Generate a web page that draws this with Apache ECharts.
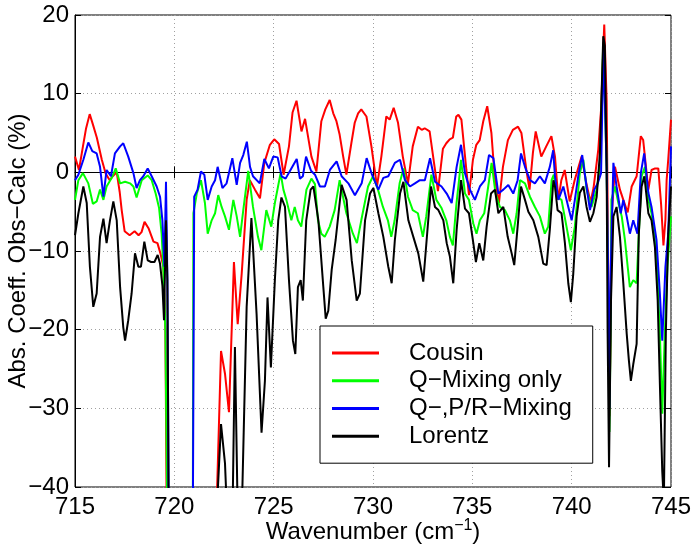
<!DOCTYPE html>
<html>
<head>
<meta charset="utf-8">
<script src="https://cdn.jsdelivr.net/npm/echarts@6/dist/echarts.min.js"></script>
<style>html,body{margin:0;padding:0;background:#fff}#c{width:694px;height:548px}</style>
</head>
<body>
<div id="c"></div>
<script>
const seriesNames = ['Cousin', 'Q\u2212Mixing only', 'Q\u2212,P/R\u2212Mixing', 'Lorentz'];
const xTicks = [715, 720, 725, 730, 735, 740, 745];
const yTicks = [-40, -30, -20, -10, 0, 10, 20];

const cousin = [[715.0,2.0],[715.2,0.3],[715.4,3.3],[715.55,5.5],[715.74,7.4],[715.9,6.1],[716.1,4.4],[716.35,1.6],[716.55,-0.2],[716.75,-1.0],[716.9,-0.5],[717.1,0.0],[717.25,-2.5],[717.35,-4.8],[717.5,-7.5],[717.75,-8.0],[718.0,-7.5],[718.2,-8.0],[718.35,-7.6],[718.5,-6.3],[718.7,-7.1],[718.95,-8.8],[719.15,-9.0],[719.3,-10.3],[719.45,-12],[719.55,-20],[719.62,-45],[720.4,null],[722.1,-45],[722.35,-22.7],[722.55,-25.6],[722.75,-30.5],[723.0,-11.4],[723.19,-19.3],[723.39,-12.9],[723.64,-3.5],[723.8,-1.0],[724.06,-2.2],[724.31,-3.3],[724.53,1.2],[724.81,3.5],[725.03,4.2],[725.27,3.6],[725.5,-0.3],[725.77,3.3],[725.95,7.6],[726.15,9.1],[726.4,5.2],[726.58,6.8],[726.9,2.0],[727.15,0.1],[727.4,6.5],[727.6,8.0],[727.82,9.2],[728.0,7.5],[728.16,6.5],[728.32,4.8],[728.5,2.0],[728.66,-0.3],[728.91,3.7],[729.08,6.3],[729.25,7.5],[729.41,8.0],[729.67,7.1],[729.92,3.3],[730.2,-1.8],[730.42,2.0],[730.67,7.1],[730.84,6.7],[731.04,8.2],[731.26,6.3],[731.5,2.0],[731.76,-1.4],[732.0,3.3],[732.26,5.8],[732.45,5.4],[732.6,5.6],[732.85,5.2],[733.1,0.7],[733.27,-2.4],[733.52,3.0],[733.69,3.7],[733.86,4.2],[734.02,4.4],[734.19,7.1],[734.3,7.3],[734.45,6.7],[734.7,0.3],[734.83,-2.9],[735.03,1.6],[735.2,3.5],[735.37,4.1],[735.55,6.5],[735.75,8.4],[735.96,5.0],[736.12,-0.5],[736.34,-3.9],[736.54,0.7],[736.79,4.1],[737.04,5.4],[737.3,5.8],[737.47,5.0],[737.72,0.3],[737.88,-2.2],[738.05,2.5],[738.19,5.2],[738.47,2.0],[738.72,3.3],[738.98,4.6],[739.16,2.0],[739.33,-3.5],[739.48,-1.0],[739.65,0.3],[739.9,-3.7],[740.15,-1.0],[740.5,2.0],[740.74,-1.4],[740.95,-3.8],[741.1,-2.0],[741.34,2.9],[741.48,8],[741.64,18.8],[741.76,9.2],[741.85,-15],[741.9,-31],[741.97,-18],[742.01,-5.7],[742.18,0.7],[742.43,-2.2],[742.6,-3.5],[742.82,-5.1],[743.02,-1.8],[743.27,-0.5],[743.48,4.6],[743.6,4.1],[743.86,-2.2],[744.02,0.3],[744.2,0.5],[744.36,0.5],[744.5,-4],[744.62,-9.3],[744.72,-6],[744.78,-1.0],[744.86,1.6],[745.0,6.7]];

const qMixing = [[715.0,-3.5],[715.17,-1.0],[715.4,-0.1],[715.47,0.1],[715.67,-1.4],[715.9,-4.0],[716.09,-3.7],[716.26,-2.2],[716.43,-3.5],[716.59,-1.8],[716.85,-0.7],[717.05,0.5],[717.27,-1.4],[717.52,-1.2],[717.77,-1.4],[717.94,-1.8],[718.1,-3.2],[718.36,-1.0],[718.66,-0.4],[718.86,-1.0],[719.06,-2.7],[719.23,-4.5],[719.36,-7.8],[719.45,-12.4],[719.55,-20],[719.65,-45],[720.4,null],[720.93,-45],[720.96,-5.2],[721.13,-2.7],[721.34,-1.0],[721.54,-3.9],[721.68,-7.8],[721.88,-6.1],[722.05,-5.2],[722.21,-2.9],[722.38,-4.4],[722.55,-5.6],[722.75,-7.3],[722.97,-3.5],[723.14,-5.6],[723.31,-8.2],[723.47,-4.8],[723.72,0.2],[723.96,-4.4],[724.21,-8.2],[724.38,-9.9],[724.63,-4.8],[724.88,-6.9],[725.06,-3.9],[725.22,-1.8],[725.35,-0.1],[725.49,-2.2],[725.64,-3.5],[725.89,-6.1],[726.06,-4.4],[726.22,-6.1],[726.39,-6.9],[726.65,-2.2],[726.9,-0.8],[727.08,-1.5],[727.23,-6.1],[727.4,-7.8],[727.57,-8.2],[727.82,-6.9],[728.07,-4.8],[728.32,-1.0],[728.66,-5.2],[728.99,-7.8],[729.19,-9.0],[729.41,-6.1],[729.75,-1.8],[730.0,-0.5],[730.25,-2.2],[730.5,-4.4],[730.75,-6.1],[730.92,-8.2],[731.09,-6.1],[731.34,-1.4],[731.54,0.5],[731.76,-3.1],[732.0,-4.8],[732.26,-5.2],[732.51,-8.2],[732.68,-5.6],[732.94,-0.3],[733.19,-3.5],[733.44,-4.5],[733.69,-6.1],[733.87,-8.2],[734.02,-9.3],[734.2,-4],[734.33,-1.0],[734.43,1.6],[734.63,-2.7],[734.83,-3.5],[735.05,-6.5],[735.21,-7.8],[735.38,-6.1],[735.6,-5.2],[735.8,-1.8],[735.97,1.2],[736.17,-2.7],[736.39,-4.4],[736.64,-4.8],[736.89,-6.1],[737.06,-7.8],[737.23,-5.2],[737.4,-1.0],[737.65,-1.4],[737.9,-3.1],[738.15,-4.4],[738.4,-5.6],[738.65,-7.8],[738.82,-6.9],[738.99,-1.0],[739.1,-0.3],[739.24,-3.1],[739.49,-3.5],[739.74,-6.9],[739.96,-9.9],[740.16,-6.9],[740.41,-0.1],[740.59,1.6],[740.75,-2.2],[741.0,-4.4],[741.26,-2.2],[741.42,0.7],[741.59,16.5],[741.76,0.7],[741.85,-18],[741.9,-33],[741.97,-18],[742.0,-3.5],[742.18,-1.8],[742.35,-3.9],[742.52,-5.6],[742.68,-8.6],[742.82,-12],[742.93,-14.6],[743.1,-13.7],[743.27,-14.1],[743.38,-7.8],[743.52,-0.5],[743.69,0.7],[743.86,-3.5],[744.02,-5.2],[744.27,-10.3],[744.44,-20.5],[744.56,-30.7],[744.69,-20.5],[744.82,-12],[745.0,-5.6]];

const qprMixing = [[715.0,-1.0],[715.17,-0.3],[715.42,1.6],[715.67,3.8],[715.87,2.7],[716.09,2.4],[716.26,0.7],[716.43,-3.1],[716.59,0.3],[716.81,-0.5],[717.01,2.4],[717.27,3.3],[717.43,3.7],[717.68,2.0],[717.94,-0.1],[718.1,-2.0],[718.27,-1.0],[718.44,-0.5],[718.66,0.5],[718.86,-0.5],[719.11,-1.8],[719.28,-3.1],[719.4,-6.1],[719.5,-12.0],[719.58,-1.2],[719.65,-13.7],[719.72,-45],[720.4,null],[720.93,-45],[721.0,-3.1],[721.17,-2.2],[721.34,0.1],[721.51,-0.3],[721.68,-3.5],[721.88,-1.8],[722.05,-1.0],[722.18,0.7],[722.42,-2.0],[722.63,-1.4],[722.92,1.8],[723.14,-1.6],[723.31,1.2],[723.47,2.2],[723.65,3.9],[723.81,0.7],[723.96,-0.5],[724.06,-0.7],[724.3,-1.4],[724.53,1.7],[724.76,0.5],[724.98,2.0],[725.2,1.9],[725.4,-0.5],[725.6,-0.8],[725.89,0.5],[726.16,1.7],[726.32,-0.8],[726.47,-0.5],[726.63,2.0],[726.88,0.2],[727.08,-0.3],[727.33,-1.8],[727.58,-1.8],[727.83,0.3],[728.17,1.4],[728.42,-0.5],[728.76,-1.4],[729.09,-2.9],[729.43,-1.4],[729.68,1.8],[729.95,-0.3],[730.27,-2.2],[730.52,-0.7],[730.77,-0.5],[731.1,1.2],[731.36,1.6],[731.61,-1.0],[731.86,-1.8],[732.11,-1.4],[732.36,-1.0],[732.61,-1.0],[732.87,1.8],[733.12,-1.2],[733.45,-1.8],[733.71,-2.7],[733.96,-3.9],[734.21,0.7],[734.43,3.5],[734.63,-0.1],[734.88,-2.2],[735.13,-3.5],[735.38,-1.8],[735.63,-1.0],[735.84,2.2],[736.06,1.8],[736.31,-2.7],[736.56,-2.2],[736.81,-1.6],[737.06,-2.7],[737.28,-1.0],[737.45,2.4],[737.65,0.7],[737.9,-1.0],[738.15,-1.4],[738.4,-0.5],[738.65,-1.4],[738.9,0.7],[739.07,2.8],[739.16,-0.5],[739.33,-3.5],[739.58,-1.8],[739.83,-4.4],[740.0,-6.1],[740.16,-3.5],[740.33,-0.5],[740.53,2.2],[740.75,-1.8],[740.92,-4.8],[741.14,-2.2],[741.31,-1.4],[741.48,-0.1],[741.6,16],[741.76,0.5],[741.85,-15],[741.9,-30],[741.97,-12],[742.1,1.2],[742.26,-1.8],[742.47,-5.2],[742.6,-3.5],[742.77,-5.6],[742.93,-7.8],[743.1,-6.1],[743.31,-7.8],[743.48,-0.1],[743.65,2.4],[743.86,-2.6],[744.02,-4.4],[744.27,-8.6],[744.44,-15.4],[744.56,-21.4],[744.72,-12],[744.86,-7.8],[745.0,3.3]];

const lorentz = [[715.0,-8.0],[715.17,-5.2],[715.42,-1.8],[715.59,-3.9],[715.75,-12],[715.92,-17.1],[716.09,-15.4],[716.26,-8.2],[716.43,-5.9],[716.59,-9.0],[716.76,-6.1],[716.93,-3.7],[717.1,-6.1],[717.27,-14.6],[717.43,-19.7],[717.52,-21.4],[717.68,-18.8],[717.85,-15.4],[718.02,-10.3],[718.19,-12],[718.32,-12],[718.49,-8.8],[718.66,-11.2],[718.83,-11.4],[719.0,-11.4],[719.16,-10.5],[719.28,-11.6],[719.4,-14.4],[719.48,-18.8],[719.58,-6.1],[719.65,-13.7],[719.72,-45],[720.4,null],[722.1,-45],[722.35,-32],[722.55,-37],[722.68,-45],[722.92,-45],[723.05,-22.2],[723.2,-45],[723.38,-45],[723.64,-17.1],[723.88,-5.8],[724.14,-18],[724.39,-33.1],[724.56,-26.5],[724.69,-15.9],[724.86,-24.8],[725.06,-13.7],[725.23,-6.1],[725.39,-3.2],[725.57,-4.4],[725.77,-13.7],[725.97,-21.4],[726.09,-23.1],[726.22,-14.6],[726.36,-13.7],[726.47,-16.3],[726.64,-6.1],[726.86,-2.2],[727.0,-1.8],[727.25,-6.1],[727.5,-14.6],[727.62,-18.6],[727.75,-17.6],[727.92,-12.4],[728.12,-8.6],[728.42,-1.6],[728.67,-3.5],[728.93,-11.2],[729.18,-16.3],[729.34,-15.4],[729.6,-6.1],[729.85,-2.7],[730.02,-2.0],[730.27,-5.2],[730.52,-8.2],[730.77,-12],[730.94,-14.1],[731.1,-8.6],[731.36,-2.7],[731.53,-1.2],[731.78,-6.1],[732.03,-8.2],[732.28,-10.3],[732.53,-13.9],[732.7,-8.6],[732.92,-1.8],[733.12,-4.4],[733.29,-4.8],[733.54,-6.1],[733.71,-9.0],[733.87,-10.7],[734.04,-14.1],[734.21,-7.3],[734.43,-1.0],[734.63,-4.6],[734.83,-5.2],[735.05,-9.0],[735.18,-11.4],[735.35,-9.0],[735.55,-11.2],[735.72,-6.9],[735.94,-2.7],[736.14,-2.2],[736.31,-5.2],[736.56,-4.4],[736.78,-8.2],[736.98,-10.3],[737.11,-11.8],[737.28,-6.9],[737.45,-1.8],[737.65,-3.5],[737.82,-5.0],[738.07,-6.1],[738.32,-8.2],[738.57,-11.6],[738.74,-11.8],[738.9,-7.3],[739.08,-1.0],[739.16,-1.8],[739.29,-4.8],[739.49,-5.2],[739.66,-9.0],[739.83,-14.1],[739.96,-16.5],[740.08,-12.9],[740.25,-5.6],[740.41,-2.6],[740.59,-1.8],[740.75,-4.4],[740.92,-6.3],[741.09,-5.2],[741.26,-3.1],[741.42,2.4],[741.59,17.3],[741.67,16.1],[741.76,0.7],[741.81,-20.5],[741.88,-37.5],[741.98,-16.3],[742.1,-5.6],[742.26,-4.4],[742.43,-8.2],[742.6,-14.1],[742.77,-20.5],[742.88,-23.9],[742.98,-26.5],[743.1,-24.4],[743.27,-21.8],[743.38,-7.8],[743.52,-1.8],[743.66,-0.5],[743.86,-5.2],[744.02,-6.1],[744.19,-9.5],[744.33,-16.3],[744.44,-26.9],[744.56,-38],[744.64,-42],[744.74,-20.5],[744.86,-7.8],[745.0,-1.8]];

const colors = ['#ff0000', '#00ff00', '#0000ff', '#000000'];
const allData = [cousin, qMixing, qprMixing, lorentz];

const FONT = "'Liberation Sans', Arial, Helvetica, sans-serif";
const FS = 24;
const fmtY = v => (v < 0 ? '\u2212' + Math.abs(v) : String(v));

const chart = echarts.init(document.getElementById('c'), null, {renderer: 'canvas'});
const splitDotted = {show: true, lineStyle: {color: '#a0a0a0', type: [1, 3], width: 1}};
chart.setOption({
  animation: false,
  backgroundColor: '#fff',
  textStyle: {fontFamily: FONT},
  grid: {left: 75, right: 23, top: 15, bottom: 61, show: true, borderColor: '#000', borderWidth: 1, backgroundColor: 'transparent', containLabel: false, outerBoundsMode: 'none'},
  legend: {
    data: seriesNames,
    orient: 'vertical',
    left: 320, top: 326,
    padding: [13, 21, 13, 12],
    itemGap: 0,
    itemWidth: 47, itemHeight: 3,
    icon: 'rect',
    backgroundColor: '#fff',
    borderColor: '#000', borderWidth: 1, borderRadius: 0,
    textStyle: {fontFamily: FONT, fontSize: FS, color: '#000', lineHeight: 27.8, padding: [0, 0, 0, 25]}
  },
  xAxis: [{
    type: 'value', min: xTicks[0], max: xTicks[xTicks.length - 1], interval: 5,
    name: '{a|Wavenumber (cm}{s|\u22121}{a|)}', nameLocation: 'middle', nameGap: 31, nameMoveOverlap: false,
    nameTextStyle: {rich: {a: {fontFamily: FONT, fontSize: FS, color: '#000'}, s: {fontFamily: FONT, fontSize: 16, color: '#000', padding: [0, 0, 12, 0]}}},
    axisLine: {show: true, lineStyle: {color: '#000'}},
    axisTick: {show: true, inside: true, length: 6, lineStyle: {color: '#000'}},
    axisLabel: {fontFamily: FONT, fontSize: FS, color: '#000', margin: 8},
    splitLine: splitDotted
  }, {
    type: 'value', position: 'top', min: xTicks[0], max: xTicks[xTicks.length - 1], interval: 5,
    axisLine: {show: false}, axisLabel: {show: false},
    axisTick: {show: true, inside: true, length: 6, lineStyle: {color: '#000'}},
    splitLine: {show: false}
  }],
  yAxis: [{
    type: 'value', min: yTicks[0], max: yTicks[yTicks.length - 1], interval: 10,
    name: 'Abs. Coeff. Obs\u2212Calc (%)', nameLocation: 'middle', nameGap: 45, nameMoveOverlap: false,
    nameTextStyle: {fontFamily: FONT, fontSize: FS, color: '#000'},
    axisLine: {show: true, lineStyle: {color: '#000'}},
    axisTick: {show: true, inside: true, length: 6, lineStyle: {color: '#000'}},
    axisLabel: {fontFamily: FONT, fontSize: FS, color: '#000', margin: 6, formatter: fmtY},
    splitLine: splitDotted
  }, {
    type: 'value', position: 'right', min: yTicks[0], max: yTicks[yTicks.length - 1], interval: 10,
    axisLine: {show: false}, axisLabel: {show: false},
    axisTick: {show: true, inside: true, length: 6, lineStyle: {color: '#000'}},
    splitLine: {show: false}
  }],
  series: allData.map((d, i) => ({
    name: seriesNames[i], type: 'line', data: d, xAxisIndex: 0, yAxisIndex: 0,
    showSymbol: false, symbol: 'none', clip: true, connectNulls: false,
    lineStyle: {color: colors[i], width: 2}, itemStyle: {color: colors[i]},
    z: 2 + i
  }))
});
</script>
</body>
</html>
